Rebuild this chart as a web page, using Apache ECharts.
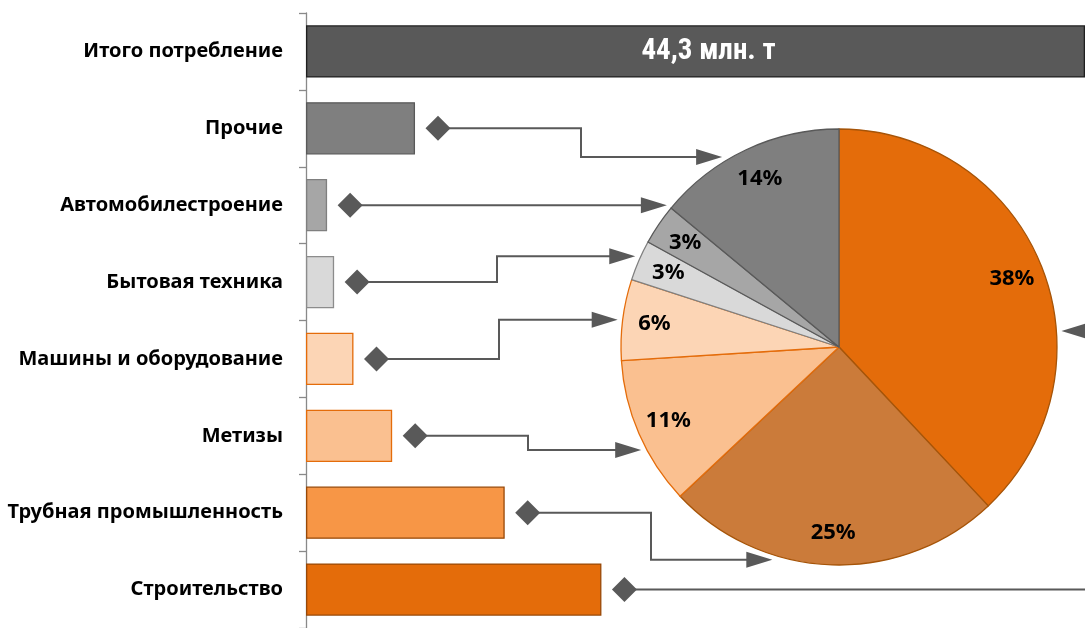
<!DOCTYPE html>
<html><head><meta charset="utf-8">
<script src="https://cdn.jsdelivr.net/npm/echarts@6/dist/echarts.min.js"></script>
<style>html,body{margin:0;padding:0;background:#fff}#c{width:1085px;height:628px}</style>
</head><body><div id="c"></div>
<script>
// ---- data ----
const categories = ['Итого потребление','Прочие','Автомобилестроение','Бытовая техника','Машины и оборудование','Метизы','Трубная промышленность','Строительство'];
const volumes = [44.3, 6.2, 1.2, 1.6, 2.7, 4.9, 11.3, 16.8];           // млн т
const shareCategories = ['Строительство','Трубная промышленность','Метизы','Машины и оборудование','Бытовая техника','Автомобилестроение','Прочие'];
const shares = [38, 25, 11, 6, 3, 3, 14];                               // %
const totalLabel = '44,3 млн. т';

// ---- styles ----
const barFill = {'Итого потребление':'#595959','Прочие':'#7f7f7f','Автомобилестроение':'#a6a6a6','Бытовая техника':'#d9d9d9','Машины и оборудование':'#fcd5b5','Метизы':'#fac090','Трубная промышленность':'#f79646','Строительство':'#e46c0a'};
const barBorder = {'Итого потребление':'#1f1f1f','Прочие':'#595959','Автомобилестроение':'#7f7f7f','Бытовая техника':'#8c8c8c','Машины и оборудование':'#e46c0a','Метизы':'#e46c0a','Трубная промышленность':'#984807','Строительство':'#984807'};
const pieFill = {'Строительство':'#e46c0a','Трубная промышленность':'#cb7b3a','Метизы':'#fac090','Машины и оборудование':'#fcd5b5','Бытовая техника':'#d9d9d9','Автомобилестроение':'#a6a6a6','Прочие':'#7f7f7f'};
const pieBorder = {'Строительство':'#a65408','Трубная промышленность':'#a65408','Метизы':'#e46c0a','Машины и оборудование':'#e46c0a','Бытовая техника':'#7f7f7f','Автомобилестроение':'#595959','Прочие':'#595959'};

const PIE_C = [839, 347], PIE_R = 218;
// connector routing (annotation layout): elbow x in px, target angle on pie edge (deg, CCW from +x)
const route = {
  'Прочие': {elbow: 581, angle: 121.6},
  'Автомобилестроение': {elbow: null},
  'Бытовая техника': {elbow: 497, angle: 156},
  'Машины и оборудование': {elbow: 499, angle: 173},
  'Метизы': {elbow: 528, angle: 207.5},
  'Трубная промышленность': {elbow: 651, angle: 252.6},
  'Строительство': {elbow: 1100, angle: 4.1, wrap: true}
};

const chart = echarts.init(document.getElementById('c'), null, {renderer: 'canvas'});
const FONT = "'Noto Sans', 'Open Sans', sans-serif";

chart.setOption({
  animation: false,
  grid: {left: 306, top: 13, right: 0, bottom: -2, containLabel: false},
  xAxis: {type: 'value', min: 0, max: 44.3, show: false},
  yAxis: {
    type: 'category', data: categories, inverse: true,
    axisLine: {show: true, lineStyle: {color: '#898989', width: 1.3}},
    axisTick: {show: true, length: 7, lineStyle: {color: '#898989', width: 1.3}},
    axisLabel: {margin: 23, color: '#000', fontFamily: FONT, fontWeight: 'bold', fontSize: 20},
    splitLine: {show: false}
  },
  series: [
    {
      type: 'bar', barWidth: '68%', z: 2,
      data: categories.map((c, i) => ({
        value: volumes[i],
        itemStyle: {color: barFill[c], borderColor: barBorder[c], borderWidth: 1.3},
        label: i === 0 ? {show: true, position: 'inside', offset: [13, 0], formatter: totalLabel,
          color: '#fff', fontFamily: "'Liberation Sans Narrow', 'Roboto Condensed', Roboto, sans-serif",
          fontWeight: 'bold', fontSize: 29} : {show: false}
      }))
    },
    {
      type: 'pie', center: PIE_C, radius: PIE_R, startAngle: 90, clockwise: true,
      label: {show: false}, labelLine: {show: false}, silent: true,
      data: shareCategories.map((c, i) => ({name: c, value: shares[i],
        itemStyle: {color: pieFill[c], borderColor: pieBorder[c], borderWidth: 1.3}}))
    },
    {
      type: 'pie', center: PIE_C, radius: [148, PIE_R], startAngle: 90, clockwise: true, silent: true, z: 5,
      itemStyle: {color: 'rgba(0,0,0,0)'},
      label: {show: true, position: 'inside', formatter: '{c}%', color: '#000', fontFamily: FONT, fontWeight: 'bold', fontSize: 22},
      labelLine: {show: false},
      data: shareCategories.map((c, i) => ({name: c, value: shares[i]}))
    }
  ]
});

// ---- connectors: diamond after each bar, line routed to the pie edge ----
const gfx = [];
const LC = '#595959', GAP = 23, D = 12.5, AL = 26, AH = 8, RR = PIE_R + 5;
categories.forEach((c, i) => {
  const r = route[c];
  if (!r) return;
  const x0 = chart.convertToPixel({xAxisIndex: 0}, volumes[i]) + GAP;
  const y0 = chart.convertToPixel({yAxisIndex: 0}, c);
  let tx, ty, pts, arrow;
  if (r.elbow === null) {
    ty = y0; tx = PIE_C[0] - Math.sqrt(RR * RR - (ty - PIE_C[1]) ** 2);
    pts = [[x0, y0], [tx - AL + 2, ty]];
    arrow = [[tx, ty], [tx - AL, ty - AH], [tx - AL, ty + AH]];
  } else {
    const a = r.angle * Math.PI / 180;
    tx = PIE_C[0] + RR * Math.cos(a); ty = PIE_C[1] - RR * Math.sin(a);
    if (r.wrap) {
      pts = [[x0, y0], [r.elbow, y0], [r.elbow, ty], [tx + AL - 2, ty]];
      arrow = [[tx, ty], [tx + AL, ty - AH], [tx + AL, ty + AH]];
    } else {
      pts = [[x0, y0], [r.elbow, y0], [r.elbow, ty], [tx - AL + 2, ty]];
      arrow = [[tx, ty], [tx - AL, ty - AH], [tx - AL, ty + AH]];
    }
  }
  gfx.push({type: 'polyline', silent: true, z: 10, shape: {points: pts}, style: {stroke: LC, lineWidth: 2, fill: null}});
  gfx.push({type: 'polygon', silent: true, z: 11, shape: {points: arrow}, style: {fill: LC}});
  gfx.push({type: 'polygon', silent: true, z: 11, shape: {points: [[x0 - D, y0], [x0, y0 - D], [x0 + D, y0], [x0, y0 + D]]}, style: {fill: LC}});
});
chart.setOption({graphic: gfx});
</script></body></html>
